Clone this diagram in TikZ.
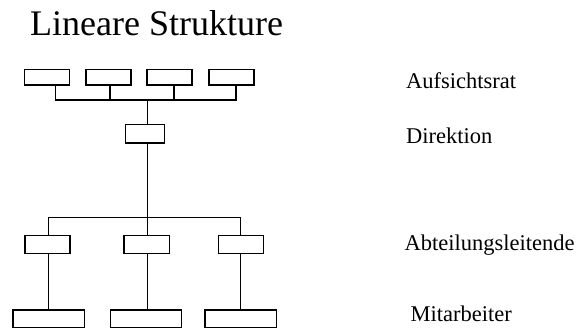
\documentclass[tikz,border=0pt]{standalone}
\usepackage{fontspec}
\setmainfont{Liberation Serif}
\tikzset{
  box/.style={draw=black, line width=1.5pt, inner sep=0pt, fill=white},
  topbox/.style={box, minimum width=45pt, minimum height=15.5pt},
  dirbox/.style={box, minimum width=39pt, minimum height=18.5pt},
  midbox/.style={box, minimum width=45.4pt, minimum height=18.4pt},
  lowbox/.style={box, minimum width=71.4pt, minimum height=17.6pt},
  conn/.style={line width=1.5pt, draw=black},
  lbl/.style={anchor=base west, inner sep=0pt, font=\fontsize{22.5}{26}\selectfont},
  ttl/.style={anchor=base west, inner sep=0pt, font=\fontsize{36}{40}\selectfont}
}
\begin{document}
\begin{tikzpicture}[x=1pt, y=-1pt]
\useasboundingbox (0,0) rectangle (581,329);
% title
\node[ttl] (title) at (30,35.7) {Lineare Strukture};
% level 1
\node[topbox] (t1) at (47.2,77.2) {};
\node[topbox] (t2) at (108.5,77.2) {};
\node[topbox] (t3) at (169.5,77.2) {};
\node[topbox] (t4) at (231.5,77.2) {};
\coordinate (h1) at (147.7,100);
\coordinate (h1l) at (55.7,100);
\coordinate (h1r) at (236,100);
% level 2
\node[dirbox] (d) at (144.8,133.9) {};
\coordinate (h2) at (147.7,217.3);
% level 3
\node[midbox] (a1) at (47.5,244.5) {};
\node[midbox] (a2) at (146.7,244.5) {};
\node[midbox] (a3) at (241,244.5) {};
% level 4
\node[lowbox] (m1) at (48.7,318.8) {};
\node[lowbox] (m2) at (146,318.8) {};
\node[lowbox] (m3) at (240.8,318.8) {};
% connectors level 1
\draw[conn] ([xshift=8.5pt]t1.south) -- (h1l) -- (h1r) -- ([xshift=4.5pt]t4.south);
\draw[conn] ([xshift=1.5pt]t2.south) -- ([xshift=1.5pt]t2.south |- h1);
\draw[conn] ([xshift=4.5pt]t3.south) -- ([xshift=4.5pt]t3.south |- h1);
\draw[conn] (h1) -- (h1 |- d.north);
% connectors level 2-3
\draw[conn] (h1 |- d.south) -- (h2);
\draw[conn] ([xshift=1.2pt]a1.north) |- (h2) -| ([xshift=-0.3pt]a3.north);
\draw[conn] (h2) -- (h2 |- a2.north);
% connectors level 3-4
\draw[conn] ([xshift=1.2pt]a1.south) -- ([xshift=1.2pt]a1.south |- m1.north);
\draw[conn] ([xshift=1pt]a2.south) -- ([xshift=1pt]a2.south |- m2.north);
\draw[conn] ([xshift=-0.3pt]a3.south) -- ([xshift=-0.3pt]a3.south |- m3.north);
% labels
\node[lbl] (l1) at (406,88.3) {Aufsichtsrat};
\node[lbl] (l2) at (406,143.3) {Direktion};
\node[lbl] (l3) at (404.5,250) {Abteilungsleitende};
\node[lbl] (l4) at (410.5,321) {Mitarbeiter};
\end{tikzpicture}
\end{document}
